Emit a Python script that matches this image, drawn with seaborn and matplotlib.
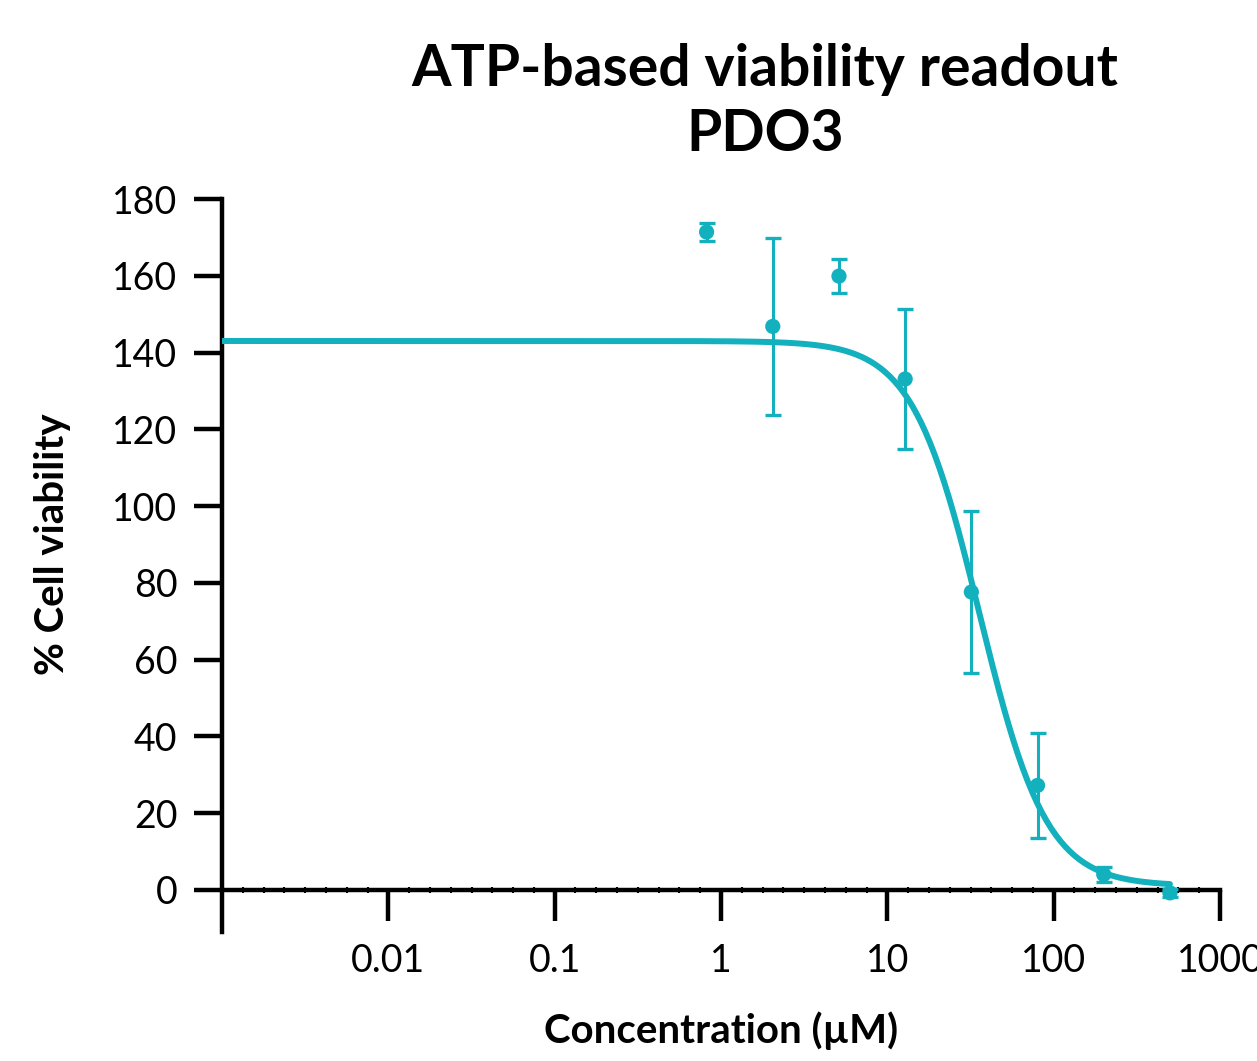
import numpy as np
import pandas as pd
import matplotlib
matplotlib.use('Agg')
import matplotlib.pyplot as plt
import matplotlib.ticker as mticker
import seaborn as sns

sns.set_style('ticks')
plt.rcParams['font.family'] = ['Lato', 'DejaVu Sans']
plt.rcParams['text.color'] = 'black'
plt.rcParams['axes.labelcolor'] = 'black'
plt.rcParams['xtick.color'] = 'black'
plt.rcParams['ytick.color'] = 'black'

# measured points (concentration in uM, mean % viability, SD)
conc = [0.8192, 2.048, 5.12, 12.8, 32, 80, 200, 500]
viability = [171.4, 146.8, 159.9, 133.1, 77.6, 27.2, 4.0, -0.8]
sd = [2.3, 23.1, 4.4, 18.3, 21.2, 13.6, 2.0, 1.0]

# 4-parameter logistic fit shown in the figure
fit_top = 143.0
fit_bottom = 1.0
fit_ic50 = 35.8
fit_hill = 2.15

x_ticks = [0.01, 0.1, 1, 10, 100, 1000]
x_ticklabels = ['0.01', '0.1', '1', '10', '100', '1000']
y_ticks = list(range(0, 181, 20))

teal = '#13B0BE'

df = pd.DataFrame({'conc': conc, 'viability': viability, 'sd': sd})
xs = np.logspace(-3, np.log10(500), 400)
curve = pd.DataFrame({'conc': xs,
                      'viability': fit_bottom + (fit_top - fit_bottom) / (1 + (xs / fit_ic50) ** fit_hill)})

fig = plt.figure(figsize=(12.57, 10.61), dpi=100)
ax = fig.add_axes([222 / 1257, 1 - 932 / 1061, 998 / 1257, 733 / 1061])

sns.lineplot(data=curve, x='conc', y='viability', color=teal, lw=4.3, ax=ax, zorder=3)
ax.errorbar(df['conc'], df['viability'], yerr=df['sd'], fmt='none', ecolor=teal,
            elinewidth=2.2, capsize=6, capthick=2.4, zorder=4)
sns.scatterplot(data=df, x='conc', y='viability', color=teal, s=120, edgecolor='none', ax=ax, zorder=5)

ax.set_xscale('log')
ax.set_xlim(1e-3, 1e3)
ax.set_ylim(-11, 180)

ax.spines['top'].set_visible(False)
ax.spines['right'].set_visible(False)
ax.spines['bottom'].set_position(('data', 0))
for s in ['left', 'bottom']:
    ax.spines[s].set_linewidth(3.2)
    ax.spines[s].set_color('black')

ax.set_xticks(x_ticks)
ax.set_xticklabels(x_ticklabels)
minor = [10 ** (d + k / 8) for d in range(-3, 3) for k in range(1, 8)]
ax.xaxis.set_minor_locator(mticker.FixedLocator(minor))
ax.xaxis.set_minor_formatter(mticker.NullFormatter())
ax.set_yticks(y_ticks)

ax.tick_params(axis='x', which='major', direction='out', length=22, width=3.2,
               labelsize=27, pad=16)
ax.tick_params(axis='x', which='minor', direction='inout', length=4.5, width=1.5)
ax.tick_params(axis='y', which='major', direction='out', length=20, width=3.2,
               labelsize=27, pad=12)

ax.set_xlabel('Concentration (µM)', fontsize=29, fontweight='bold')
ax.set_ylabel('% Cell viability', fontsize=29, fontweight='bold')
ax.xaxis.set_label_coords(0.5, -0.135)
ax.yaxis.set_label_coords(-0.170, 0.529)
ax.xaxis.label.set_va('center')
ax.yaxis.label.set_va('center')

fig.text(765 / 1257, 1 - 102 / 1061, 'ATP-based viability readout\nPDO3',
         ha='center', va='center', fontsize=41, fontweight='bold', linespacing=1.3)

fig.savefig('out.png', dpi=100)
